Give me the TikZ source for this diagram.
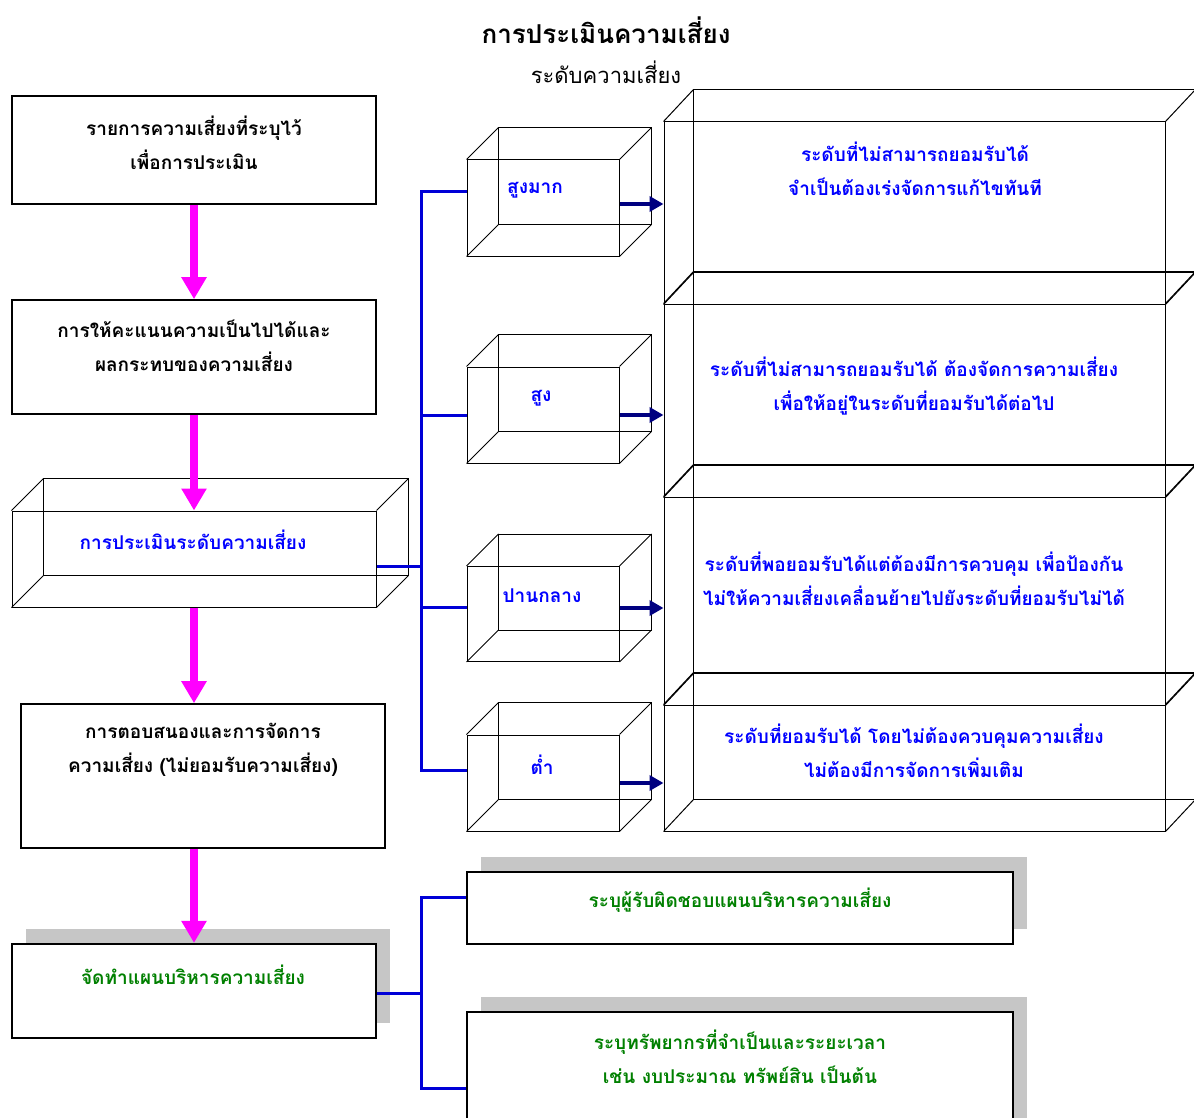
\documentclass[tikz,border=0pt]{standalone}
\usepackage{fontspec}
\setmainfont[Script=Thai]{Loma}
\usepackage{xcolor}
\usetikzlibrary{arrows.meta,shadows}
\definecolor{pinkarrow}{RGB}{255,0,255}
\definecolor{navyarrow}{RGB}{0,0,128}
\definecolor{busblue}{RGB}{0,0,215}
\definecolor{txtblue}{RGB}{0,0,255}
\definecolor{txtgreen}{RGB}{0,128,0}

% back face and the four depth edges of a wire box
\newcommand{\backface}[2]{%
  \draw[edge] ([shift={#2}]#1.south west) rectangle ([shift={#2}]#1.north east);
  \foreach \c in {north west,north east,south west,south east}
    \draw[edge] (#1.\c) -- ([shift={#2}]#1.\c);
}

\begin{document}
\begin{tikzpicture}[x=1pt,y=-1pt,
  box/.style={draw,line width=1.6pt,inner sep=0pt},
  cube/.style={draw,line width=1pt,inner sep=0pt},
  edge/.style={line width=1pt},
  plan/.style={draw,fill=white,line width=2.2pt,inner sep=0pt,
    general shadow={fill=gray!45,shadow xshift=14pt,shadow yshift=15pt}},
  txt/.style={align=center,font=\fontsize{19}{34}\selectfont\bfseries},
  pink/.style={line width=8pt,pinkarrow,-{Triangle[width=24pt,length=22pt]}},
  navy/.style={line width=4.5pt,navyarrow,-{Triangle[width=15pt,length=14pt]}},
  bus/.style={line width=3pt,busblue}]
\useasboundingbox (0,0) rectangle (1194,1118);
\clip (0,0) rectangle (1194,1118);

\node(T0) [font=\fontsize{26}{30}\selectfont\bfseries] at (606,30) {การประเมินความเสี่ยง};
\node(T1) [font=\fontsize{22}{26}\selectfont] at (606,72) {ระดับความเสี่ยง};

% left column
\node(R1) [box,minimum width=364,minimum height=108] at (194,150) {};
\node(R2) [box,minimum width=364,minimum height=114] at (194,357) {};
\node(R3) [cube,minimum width=364,minimum height=96] at (194,559) {};
\node(R4) [box,minimum width=364,minimum height=144] at (203,776) {};
\node(R5) [plan,minimum width=364,minimum height=94] at (194,991) {};
\backface{R3}{(32,-32)}

\node(X1) [txt] at (194,143) {รายการความเสี่ยงที่ระบุไว้\\เพื่อการประเมิน};
\node(X2) [txt] at (194,346) {การให้คะแนนความเป็นไปได้และ\\ผลกระทบของความเสี่ยง};
\node(X3) [txt,txtblue] at (193,540) {การประเมินระดับความเสี่ยง};
\node(X4) [txt] at (203,750) {การตอบสนองและการจัดการ\\ความเสี่ยง (ไม่ยอมรับความเสี่ยง)};
\node(X5) [txt,txtgreen] at (193,975) {จัดทำแผนบริหารความเสี่ยง};

% levels
\node(L1) [cube,minimum width=152,minimum height=96] at (543,208) {};
\node(L2) [cube,minimum width=152,minimum height=96] at (543,415) {};
\node(L3) [cube,minimum width=152,minimum height=95] at (543,614) {};
\node(L4) [cube,minimum width=152,minimum height=96] at (543,783) {};
\foreach \n in {L1,L2,L3,L4} {\backface{\n}{(32,-32)}}

\node(Y1) [txt,txtblue] at (535,190) {สูงมาก};
\node(Y2) [txt,txtblue] at (541,398) {สูง};
\node(Y3) [txt,txtblue] at (542,596) {ปานกลาง};
\node(Y4) [txt,txtblue] at (542,765) {ต่ำ};

% descriptions
\node(D1) [cube,minimum width=501,minimum height=182] at (914.5,213) {};
\node(D2) [cube,minimum width=501,minimum height=193] at (914.5,400.5) {};
\node(D3) [cube,minimum width=501,minimum height=208] at (914.5,601) {};
\node(D4) [cube,minimum width=501,minimum height=126] at (914.5,768) {};
\foreach \n in {D1,D2,D3,D4} {\backface{\n}{(30,-32)}}

\node(Z1) [txt,txtblue] at (915,169) {ระดับที่ไม่สามารถยอมรับได้\\จำเป็นต้องเร่งจัดการแก้ไขทันที};
\node(Z2) [txt,txtblue] at (914,386) {ระดับที่ไม่สามารถยอมรับได้ ต้องจัดการความเสี่ยง\\เพื่อให้อยู่ในระดับที่ยอมรับได้ต่อไป};
\node(Z3) [txt,txtblue] at (914,579) {ระดับที่พอยอมรับได้แต่ต้องมีการควบคุม เพื่อป้องกัน\\ไม่ให้ความเสี่ยงเคลื่อนย้ายไปยังระดับที่ยอมรับไม่ได้};
\node(Z4) [txt,txtblue] at (914,751) {ระดับที่ยอมรับได้ โดยไม่ต้องควบคุมความเสี่ยง\\ไม่ต้องมีการจัดการเพิ่มเติม};

% plan boxes
\node(G1) [plan,minimum width=546,minimum height=72] at (740,908) {};
\node(G2) [plan,minimum width=546,minimum height=138] at (740,1081) {};
\node(W1) [txtgreen,txt] at (740,900) {ระบุผู้รับผิดชอบแผนบริหารความเสี่ยง};
\node(W2) [txtgreen,txt] at (740,1057) {ระบุทรัพยากรที่จำเป็นและระยะเวลา\\เช่น งบประมาณ ทรัพย์สิน เป็นต้น};

% flow
\draw[pink] (R1) to (R2);
\draw[pink] (R2) to (R3);
\draw[pink] (R3.south) to (R3.south |- R4.north);
\draw[pink] (R5.north |- R4.south) to (R5.north);

\coordinate(B1) at (421,566);
\coordinate(B2) at (421,993);
\draw[bus] (R3.east |- B1) -- (B1);
\draw[bus] ([yshift=16pt]L1.west) -| ([yshift=13pt]L4.west -| B1) -- ([yshift=13pt]L4.west);
\draw[bus] (B1 |- L2.west) -- (L2.west);
\draw[bus] ([yshift=7pt]L3.west -| B1) -- ([yshift=7pt]L3.west);
\draw[bus] (R5.east |- B2) -- (B2);
\draw[bus] ([yshift=11pt]G1.west) -| ([yshift=-7pt]G2.west -| B2) -- ([yshift=-7pt]G2.west);

\draw[navy] ([yshift=4pt]L1.east) to ([yshift=4pt]L1.east -| D1.west);
\draw[navy] (L2.east) to (L2.east -| D2.west);
\draw[navy] ([yshift=6pt]L3.east) to ([yshift=6pt]L3.east -| D3.west);
\draw[navy] (L4.east) to (L4.east -| D4.west);
\end{tikzpicture}
\end{document}
